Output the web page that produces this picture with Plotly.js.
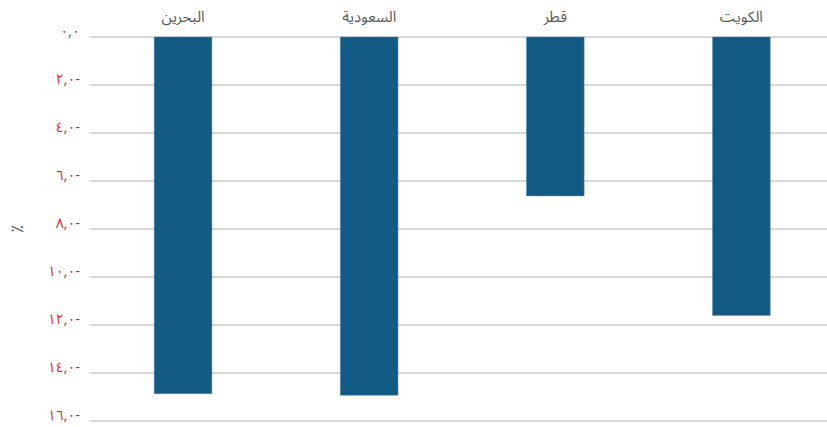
<!DOCTYPE html>
<html>
<head>
<meta charset="utf-8">
<script src="https://cdn.plot.ly/plotly-3.0.1.min.js"></script>
<style>html,body{margin:0;padding:0;background:#fff;}#chart{width:827px;height:427px;}</style>
</head>
<body>
<div id="chart"></div>
<script>
var categories = ["البحرين", "السعودية", "قطر", "الكويت"];
var values = [-14.86, -14.93, -6.62, -11.6];
var tickVals = [0, -2, -4, -6, -8, -10, -12, -14, -16];
var tickLabels = ["٠,٠", "٢,٠-", "٤,٠-", "٦,٠-", "٨,٠-", "١٠,٠-", "١٢,٠-", "١٤,٠-", "١٦,٠-"];
var yTitle = "٪";

var arFont = "'Noto Sans Arabic', 'Noto Kufi Arabic', 'DejaVu Sans', sans-serif";
var tickText = tickLabels.map(function (t, i) {
  return tickVals[i] === 0 ? '<span style="color:#595959">' + t + '</span>' : t;
});

var trace = {
  type: 'bar',
  x: categories,
  y: values,
  marker: { color: '#115a84', line: { color: '#5b8db0', width: 0.5 } },
  width: 0.31,
  hoverinfo: 'x+y'
};

var layout = {
  width: 827,
  height: 427,
  margin: { l: 90, r: 0, t: 34, b: 3 },
  paper_bgcolor: '#ffffff',
  plot_bgcolor: '#ffffff',
  showlegend: false,
  xaxis: {
    side: 'top',
    range: [-0.5, 3.46],
    showgrid: false,
    zeroline: false,
    showline: false,
    ticks: '',
    ticklabelstandoff: 8,
    tickfont: { family: arFont, size: 15, color: '#595959' },
    fixedrange: true
  },
  yaxis: {
    range: [-16.125, 0.125],
    tickmode: 'array',
    tickvals: tickVals,
    ticktext: tickText,
    tickfont: { family: arFont, size: 14, color: '#e31e24' },
    ticklabeloverflow: 'allow',
    ticklabelshift: -6,
    showgrid: true,
    gridcolor: '#d9d9d9',
    gridwidth: 2,
    zeroline: false,
    showline: false,
    ticks: '',
    ticklabelstandoff: 9,
    title: { text: yTitle, font: { family: arFont, size: 17, color: '#595959' }, standoff: 45 },
    fixedrange: true
  }
};

Plotly.newPlot('chart', [trace], layout, { displayModeBar: false, staticPlot: true });
</script>
</body>
</html>
